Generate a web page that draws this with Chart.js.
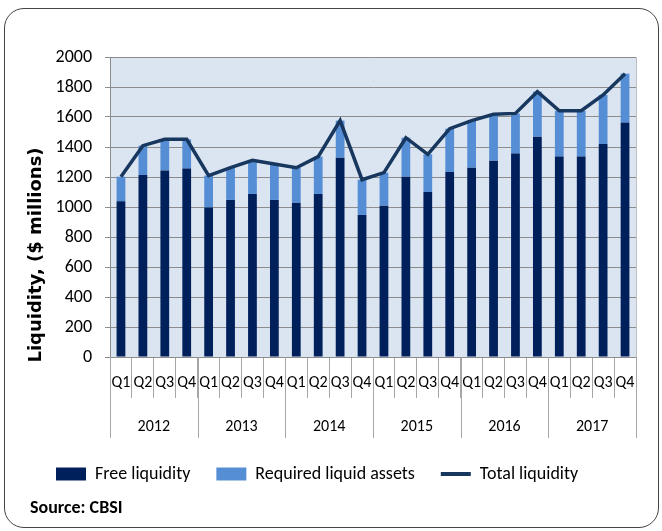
<!DOCTYPE html>
<html lang="en">
<head>
  <meta charset="UTF-8" />
  <title>Liquidity</title>
  <script src="https://cdn.jsdelivr.net/npm/chart.js"></script>
  <style>
    body {
      margin: 0;
      background: #fff;
      width: 662px;
      height: 531px;
      overflow: hidden;
      position: relative;
    }

    .frame {
      position: absolute;
      left: 4px;
      top: 8px;
      width: 653px;
      height: 518px;
      border: 1.5px solid #444;
      border-radius: 20px;
    }

    .wrap {
      position: absolute;
      left: 0;
      top: 0;
      width: 662px;
      height: 531px;
    }
  </style>
</head>
<body>

<div class="frame"></div>
<div class="wrap">
  <canvas id="liqChart" width="662" height="531"></canvas>
</div>

<script>
const quarters = ['Q1', 'Q2', 'Q3', 'Q4', 'Q1', 'Q2', 'Q3', 'Q4', 'Q1', 'Q2', 'Q3', 'Q4',
                  'Q1', 'Q2', 'Q3', 'Q4', 'Q1', 'Q2', 'Q3', 'Q4', 'Q1', 'Q2', 'Q3', 'Q4'];
const years = ['2012', '2013', '2014', '2015', '2016', '2017'];

const freeLiquidity = [1038, 1213, 1244, 1256, 996, 1047, 1087, 1047, 1029, 1087, 1329, 947,
                       1009, 1202, 1100, 1233, 1262, 1309, 1356, 1469, 1336, 1336, 1420, 1564];
const requiredAssets = [164, 196, 207, 195, 213, 215, 224, 240, 233, 249, 247, 235,
                        220, 260, 251, 289, 314, 309, 268, 300, 306, 306, 327, 325];
const totalLiquidity = [1202, 1409, 1451, 1451, 1209, 1262, 1311, 1287, 1262, 1336, 1576, 1182,
                        1229, 1462, 1351, 1522, 1576, 1618, 1624, 1769, 1642, 1642, 1747, 1889];

const calibri = "Carlito, 'Liberation Sans', sans-serif";

// light blue plot area, grey right edge
const plotBg = {
  id: 'plotBg',
  beforeDraw(chart) {
    const { ctx, chartArea: a } = chart;
    ctx.save();
    ctx.fillStyle = '#dbe5f1';
    ctx.fillRect(a.left, a.top, a.right - a.left, a.bottom - a.top);
    ctx.restore();
  },
  afterDraw(chart) {
    const { ctx, chartArea: a } = chart;
    ctx.save();
    ctx.strokeStyle = '#bfbfbf';
    ctx.beginPath();
    ctx.moveTo(a.right + 0.5, a.top);
    ctx.lineTo(a.right + 0.5, a.bottom);
    ctx.stroke();
    ctx.restore();
  }
};

// quarter row, year row with separators, rotated y title
const axisLabels = {
  id: 'axisLabels',
  afterDraw(chart) {
    const { ctx, chartArea: a } = chart;
    const x = chart.scales.x;
    const half = (x.getPixelForValue(1) - x.getPixelForValue(0)) / 2;
    ctx.save();
    ctx.fillStyle = '#000';
    ctx.textAlign = 'center';
    ctx.textBaseline = 'middle';
    ctx.font = '16px ' + calibri;
    quarters.forEach((q, i) => {
      ctx.fillText(q, x.getPixelForValue(i), a.bottom + 26);
    });
    ctx.strokeStyle = '#a6a6a6';
    ctx.lineWidth = 1;
    years.forEach((yr, j) => {
      const l = x.getPixelForValue(j * 4) - half;
      const r = x.getPixelForValue(j * 4 + 3) + half;
      ctx.fillText(yr, (l + r) / 2, a.bottom + 70);
      ctx.beginPath();
      ctx.moveTo(Math.round(l) + 0.5, a.bottom);
      ctx.lineTo(Math.round(l) + 0.5, a.bottom + 81);
      if (j === years.length - 1) {
        ctx.moveTo(Math.round(r) + 0.5, a.bottom);
        ctx.lineTo(Math.round(r) + 0.5, a.bottom + 81);
      }
      ctx.stroke();
    });
    ctx.font = "bold 18px 'DejaVu Sans'";
    ctx.translate(36, a.bottom - 102);
    ctx.rotate(-Math.PI / 2);
    ctx.fillText('Liquidity, ($ millions)', 0, 0);
    ctx.restore();
  }
};

const ctx = document.getElementById('liqChart').getContext('2d');
new Chart(ctx, {
  type: 'bar',
  data: {
    labels: quarters,
    datasets: [
      { label: 'Free liquidity', data: freeLiquidity, backgroundColor: '#00205c',
        stack: 'bars', order: 1, barPercentage: 0.4, categoryPercentage: 1 },
      { label: 'Required liquid assets', data: requiredAssets, backgroundColor: '#558ed5',
        stack: 'bars', order: 1, barPercentage: 0.4, categoryPercentage: 1 },
      { type: 'line', label: 'Total liquidity', data: totalLiquidity, borderColor: '#17375e',
        backgroundColor: '#17375e', borderWidth: 3.5, pointRadius: 0, tension: 0,
        stack: 'total', order: 0 }
    ]
  },
  options: {
    responsive: false,
    animation: false,
    layout: { padding: { left: 30, right: 26, top: 57, bottom: 12 } },
    plugins: {
      tooltip: { enabled: false },
      legend: {
        position: 'bottom',
        align: 'start',
        labels: {
          usePointStyle: true, pointStyleWidth: 30, boxHeight: 13, padding: 26, color: '#000',
          font: { family: calibri, size: 18 },
          sort: (a, b) => a.datasetIndex - b.datasetIndex,
          generateLabels(chart) {
            return chart.data.datasets.map((ds, i) => ({
              text: ds.label,
              fillStyle: ds.type === 'line' ? ds.borderColor : ds.backgroundColor,
              strokeStyle: ds.type === 'line' ? ds.borderColor : ds.backgroundColor,
              lineWidth: ds.type === 'line' ? 4 : 0,
              pointStyle: ds.type === 'line' ? 'line' : 'rect',
              fontColor: '#000', hidden: false, datasetIndex: i
            }));
          }
        }
      },
      title: {
        display: true, position: 'bottom', align: 'start', text: 'Source: CBSI', color: '#000',
        font: { family: calibri, size: 18, weight: 'bold' }, padding: { top: 4.4, bottom: 0 }
      }
    },
    scales: {
      x: {
        stacked: true,
        afterFit: (s) => { s.height = 82; },
        ticks: { display: false },
        grid: { display: true, drawOnChartArea: false, offset: true, tickLength: 41, color: '#a6a6a6' },
        border: { color: '#8c8c8c' }
      },
      y: {
        stacked: true, min: 0, max: 2000,
        afterFit: (s) => { s.width = 80; },
        ticks: { stepSize: 200, autoSkip: false, padding: 13, color: '#000',
          font: { family: calibri, size: 18 }, callback: (v) => String(v) },
        grid: { color: '#8c8c8c', tickLength: 5 },
        border: { color: '#8c8c8c' }
      }
    }
  },
  plugins: [plotBg, axisLabels]
});
</script>

</body>
</html>
